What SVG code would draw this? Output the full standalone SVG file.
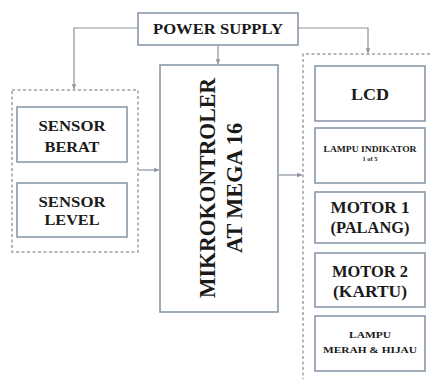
<svg xmlns="http://www.w3.org/2000/svg" width="430" height="379" viewBox="0 0 430 379">
<defs>
<style>
.box{fill:#fff;stroke:#8a98ab;stroke-width:1.6}
.grp{fill:none;stroke:#9aa1aa;stroke-width:1.5;stroke-dasharray:3 2.5}
.ln{fill:none;stroke:#8e959e;stroke-width:1.2}
text{font-family:'Liberation Serif','Times New Roman',serif;font-weight:700;fill:#1a1a1a;text-anchor:middle}
</style>
<marker id="ah" viewBox="0 0 6 6" refX="6" refY="3" markerWidth="4" markerHeight="4" orient="auto">
<path d="M0,0 L6,3 L0,6 z" fill="#8e959e"/>
</marker>
</defs>
<rect width="430" height="379" fill="#fff"/>
<g id="connectors">
<polyline class="ln" points="138,28 74,28 74,89" marker-end="url(#ah)"/>
<polyline class="ln" points="298,28 368,28 368,53" marker-end="url(#ah)"/>
<line class="ln" x1="218" y1="45" x2="218" y2="64" marker-end="url(#ah)"/>
<line class="ln" x1="139" y1="170" x2="159" y2="170" marker-end="url(#ah)"/>
<line class="ln" x1="279" y1="175" x2="302" y2="175" marker-end="url(#ah)"/>
</g>
<g id="power-supply">
<rect class="box" x="138" y="13" width="160" height="32"/>
<text x="218" y="34" font-size="15" textLength="130" lengthAdjust="spacingAndGlyphs">POWER SUPPLY</text>
</g>
<g id="sensor-group">
<rect class="grp" x="12" y="90" width="126" height="162"/>
</g>
<g id="sensor-berat">
<rect class="box" x="17" y="107" width="110" height="55"/>
<text x="72" y="131" font-size="15" textLength="67" lengthAdjust="spacingAndGlyphs">SENSOR</text>
<text x="72" y="152" font-size="15" textLength="55" lengthAdjust="spacingAndGlyphs">BERAT</text>
</g>
<g id="sensor-level">
<rect class="box" x="17" y="183" width="110" height="54"/>
<text x="72" y="207" font-size="15" textLength="67" lengthAdjust="spacingAndGlyphs">SENSOR</text>
<text x="72" y="225" font-size="15" textLength="55" lengthAdjust="spacingAndGlyphs">LEVEL</text>
</g>
<g id="mikrokontroler">
<rect class="box" x="160" y="65" width="118" height="247"/>
<text font-size="23" transform="translate(215,188) rotate(-90)" textLength="220" lengthAdjust="spacingAndGlyphs">MIKROKONTROLER</text>
<text font-size="23" transform="translate(242,188) rotate(-90)" textLength="130" lengthAdjust="spacingAndGlyphs">AT MEGA 16</text>
</g>
<g id="output-group">
<path class="grp" d="M303,381 L303,54 L432,54"/>
</g>
<g id="lcd">
<rect class="box" x="315" y="66" width="110" height="55"/>
<text x="370" y="100" font-size="17" textLength="38" lengthAdjust="spacingAndGlyphs">LCD</text>
</g>
<g id="lampu-indikator">
<rect class="box" x="315" y="128" width="110" height="55"/>
<text x="370" y="152" font-size="8" textLength="93" lengthAdjust="spacingAndGlyphs">LAMPU INDIKATOR</text>
<text x="370" y="161" font-size="7" textLength="15" lengthAdjust="spacingAndGlyphs">1 of 5</text>
</g>
<g id="motor-1">
<rect class="box" x="315" y="192" width="110" height="51"/>
<text x="370" y="213" font-size="16" textLength="79" lengthAdjust="spacingAndGlyphs">MOTOR  1</text>
<text x="370" y="233" font-size="16" textLength="79" lengthAdjust="spacingAndGlyphs">(PALANG)</text>
</g>
<g id="motor-2">
<rect class="box" x="315" y="253" width="110" height="54"/>
<text x="370" y="277" font-size="16" textLength="76" lengthAdjust="spacingAndGlyphs">MOTOR 2</text>
<text x="370" y="297" font-size="16" textLength="74" lengthAdjust="spacingAndGlyphs">(KARTU)</text>
</g>
<g id="lampu-merah-hijau">
<rect class="box" x="315" y="316" width="110" height="55"/>
<text x="370" y="338" font-size="8.5" textLength="42" lengthAdjust="spacingAndGlyphs">LAMPU</text>
<text x="370" y="353" font-size="8.5" textLength="94" lengthAdjust="spacingAndGlyphs">MERAH &amp; HIJAU</text>
</g>
</svg>
